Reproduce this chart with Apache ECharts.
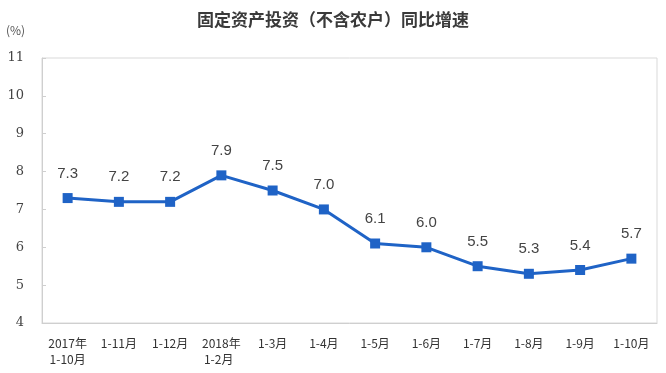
<!DOCTYPE html>
<html><head><meta charset="utf-8">
<script src="https://cdn.jsdelivr.net/npm/echarts@6/dist/echarts.min.js"></script>
<style>html,body{margin:0;padding:0;background:#fff}#c{width:666px;height:373px}</style>
</head><body><div id="c"></div>
<script>
const categories = ['2017年\n1-10月','1-11月','1-12月','2018年\n1-2月  ','1-3月','1-4月','1-5月','1-6月','1-7月','1-8月','1-9月','1-10月'];
const values = [7.3, 7.2, 7.2, 7.9, 7.5, 7.0, 6.1, 6.0, 5.5, 5.3, 5.4, 5.7];
const yTicks = [4, 5, 6, 7, 8, 9, 10, 11];
const chart = echarts.init(document.getElementById('c'));
chart.setOption({
  animation: false,
  title: {
    text: '固定资产投资（不含农户）同比增速',
    left: 'center', top: 6,
    textStyle: {fontFamily: 'Noto Sans CJK SC', fontSize: 17, fontWeight: 'bold', color: '#3a3a3a'}
  },
  graphic: [{type: 'text', left: 6, top: 24, style: {text: '(%)', fontFamily: 'Noto Sans CJK SC', fontSize: 12, fill: '#555'}}],
  grid: {left: 42, right: 9, top: 58, bottom: 50, show: true, borderColor: '#d9d9d9', borderWidth: 1},
  xAxis: {
    type: 'category', data: categories, boundaryGap: true,
    axisLine: {lineStyle: {color: '#cfcfcf'}},
    axisTick: {inside: true, length: 4, lineStyle: {color: '#cfcfcf'}},
    axisLabel: {color: '#333', fontSize: 12, fontFamily: 'Noto Sans CJK SC', margin: 12, lineHeight: 16, align: 'center', interval: 0}
  },
  yAxis: {
    type: 'value', min: yTicks[0], max: yTicks[yTicks.length-1], interval: 1,
    axisLine: {show: true, lineStyle: {color: '#cfcfcf'}},
    axisTick: {show: true, inside: true, length: 4, lineStyle: {color: '#cfcfcf'}},
    splitLine: {show: false},
    axisLabel: {color: '#444', fontSize: 13, fontFamily: 'DejaVu Serif', margin: 18}
  },
  series: [{
    type: 'line', data: values,
    symbol: 'rect', symbolSize: 10,
    lineStyle: {color: '#1f63c6', width: 3},
    itemStyle: {color: '#1f63c6'},
    label: {show: true, position: 'top', distance: 12, formatter: p => p.value.toFixed(1), color: '#444', fontSize: 15, fontFamily: 'Liberation Sans'}
  }]
});
</script></body></html>
